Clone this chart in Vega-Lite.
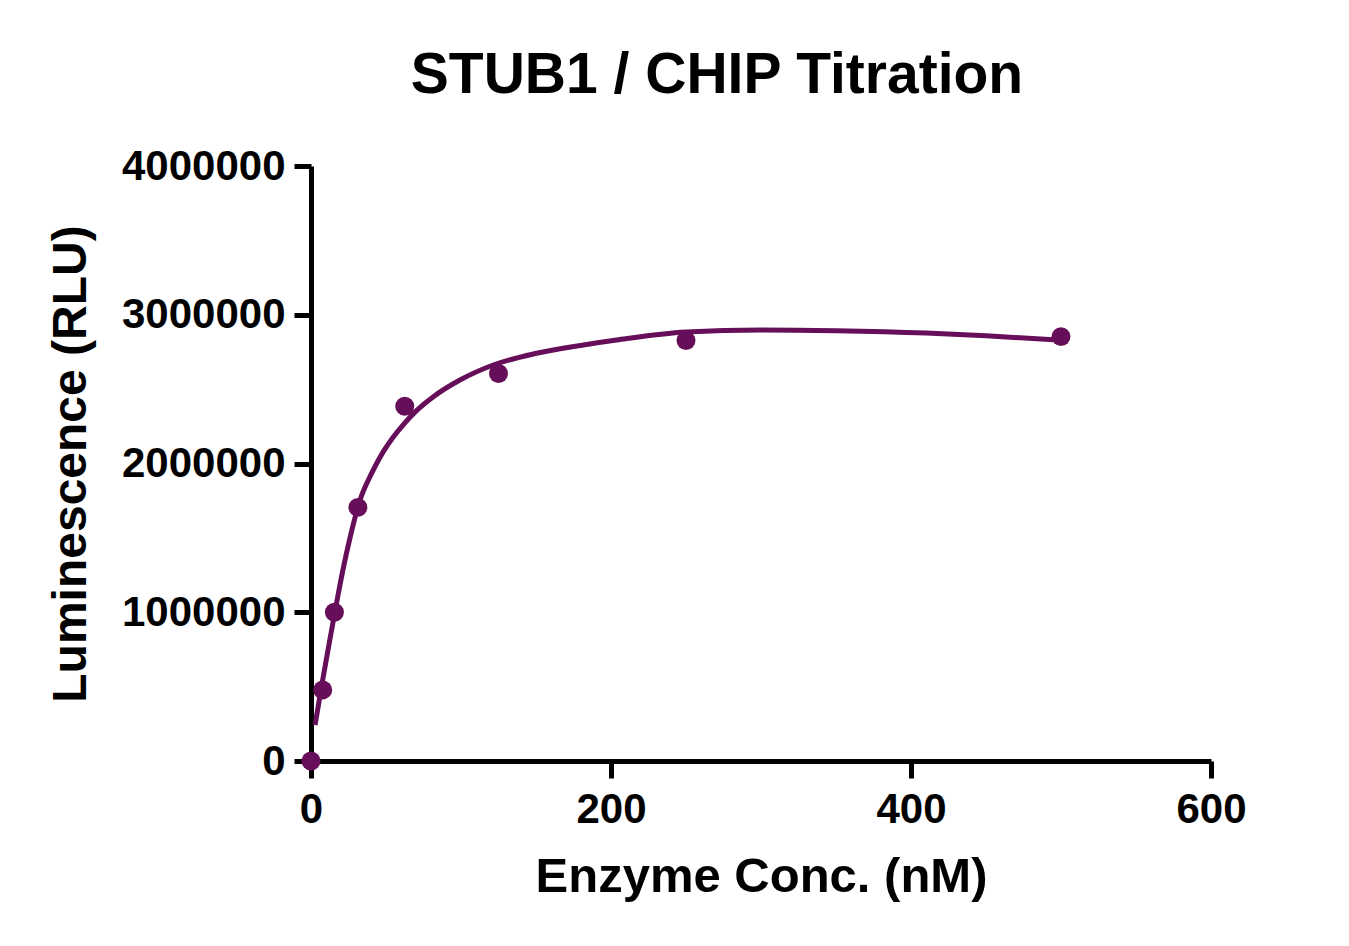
{
  "$schema": "https://vega.github.io/schema/vega-lite/v6.json",
  "width": 900,
  "height": 595,
  "autosize": "none",
  "padding": {"left": 311, "top": 166, "right": 138, "bottom": 185},
  "background": "white",
  "title": {
    "text": "STUB1 / CHIP Titration",
    "font": "Liberation Sans",
    "fontSize": 57,
    "fontWeight": "bold",
    "color": "black",
    "anchor": "middle",
    "dx": -44,
    "offset": 40
  },
  "datasets": {
    "points": [
      {"conc": 0, "rlu": 0},
      {"conc": 7.8, "rlu": 478000},
      {"conc": 15.6, "rlu": 1000000},
      {"conc": 31.25, "rlu": 1705000},
      {"conc": 62.5, "rlu": 2385000},
      {"conc": 125, "rlu": 2605000},
      {"conc": 250, "rlu": 2827000},
      {"conc": 500, "rlu": 2853000}
    ],
    "fit": [
      {"conc": 2.7, "rlu": 242000},
      {"conc": 7.8, "rlu": 545000},
      {"conc": 11.5, "rlu": 755000},
      {"conc": 15.6, "rlu": 985000},
      {"conc": 18.2, "rlu": 1125000},
      {"conc": 21.6, "rlu": 1300000},
      {"conc": 26, "rlu": 1500000},
      {"conc": 32.7, "rlu": 1755000},
      {"conc": 40.7, "rlu": 1940000},
      {"conc": 48.2, "rlu": 2080000},
      {"conc": 55, "rlu": 2180000},
      {"conc": 61.6, "rlu": 2262000},
      {"conc": 70, "rlu": 2352000},
      {"conc": 81.6, "rlu": 2449000},
      {"conc": 99.3, "rlu": 2561000},
      {"conc": 121.5, "rlu": 2662000},
      {"conc": 150.4, "rlu": 2741000},
      {"conc": 181.6, "rlu": 2797000},
      {"conc": 203.8, "rlu": 2830000},
      {"conc": 250, "rlu": 2884000},
      {"conc": 300, "rlu": 2898000},
      {"conc": 350, "rlu": 2893000},
      {"conc": 410, "rlu": 2877000},
      {"conc": 450, "rlu": 2858000},
      {"conc": 495, "rlu": 2832000}
    ]
  },
  "encoding": {
    "x": {
      "field": "conc",
      "type": "quantitative",
      "scale": {"domain": [0, 600], "nice": false, "zero": false},
      "axis": {
        "title": "Enzyme Conc. (nM)",
        "values": [0, 200, 400, 600],
        "titleFontSize": 49,
        "titlePadding": 22,
        "labelPadding": 11
      }
    },
    "y": {
      "field": "rlu",
      "type": "quantitative",
      "scale": {"domain": [0, 4000000], "nice": false},
      "axis": {
        "title": "Luminescence (RLU)",
        "values": [0, 1000000, 2000000, 3000000, 4000000],
        "format": "d",
        "titleFontSize": 48,
        "titlePadding": 26,
        "labelPadding": 9
      }
    }
  },
  "layer": [
    {
      "data": {"name": "fit"},
      "mark": {"type": "line", "color": "#660e5a", "strokeWidth": 5, "interpolate": "monotone"}
    },
    {
      "data": {"name": "points"},
      "mark": {"type": "circle", "color": "#660e5a", "size": 360, "opacity": 1}
    }
  ],
  "config": {
    "view": {"stroke": null},
    "axis": {
      "grid": false,
      "domainColor": "black",
      "domainWidth": 5,
      "tickColor": "black",
      "tickWidth": 5,
      "tickSize": 17,
      "labelFlush": false,
      "labelOverlap": false,
      "labelFont": "Liberation Sans",
      "labelFontSize": 42,
      "labelFontWeight": "bold",
      "labelColor": "black",
      "titleFont": "Liberation Sans",
      "titleFontWeight": "bold",
      "titleColor": "black"
    }
  }
}
